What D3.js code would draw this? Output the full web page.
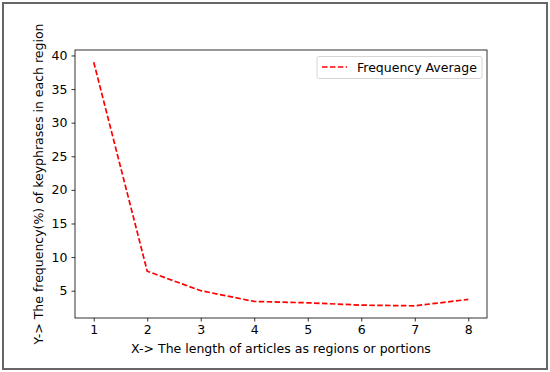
<!DOCTYPE html>
<html>
<head>
<meta charset="utf-8">
<script src="https://cdn.jsdelivr.net/npm/d3@7"></script>
<style>
  body { margin: 0; background: #fff; }
  text { font-family: "DejaVu Sans", sans-serif; fill: #000; }
</style>
</head>
<body>
<script>
// values
var regions = [1, 2, 3, 4, 5, 6, 7, 8];
var freqAvg = [39.0, 7.9, 5.0, 3.4, 3.2, 2.85, 2.75, 3.7];
var yTicks = [5, 10, 15, 20, 25, 30, 35, 40];
var seriesName = "Frequency Average";

var W = 550, H = 372;
var margin = {top: 50, right: 63, bottom: 54, left: 75},
    width = W - margin.left - margin.right,
    height = H - margin.top - margin.bottom;
var fs = "12.5px";

var svg = d3.select("body").append("svg")
    .attr("width", W)
    .attr("height", H);

// outer frame
svg.append("rect")
    .attr("x", 3).attr("y", 3)
    .attr("width", W - 6).attr("height", H - 6)
    .attr("fill", "none")
    .attr("stroke", "#666")
    .attr("stroke-width", 2);

var g = svg.append("g")
    .attr("transform", "translate(" + margin.left + "," + margin.top + ")");

// matplotlib-like 5% margins
var x = d3.scaleLinear().domain([0.65, 8.35]).range([0, width]);
var yMin = d3.min(freqAvg), yMax = d3.max(freqAvg), pad = (yMax - yMin) * 0.05;
var y = d3.scaleLinear().domain([yMin - pad, yMax + pad]).range([height, 0]);

var xAxis = g.append("g")
    .attr("transform", "translate(0," + height + ")")
    .call(d3.axisBottom(x).tickValues(regions).tickSize(3.5).tickPadding(4).tickFormat(d3.format("d")));

var yAxis = g.append("g")
    .call(d3.axisLeft(y).tickValues(yTicks).tickSize(3.5).tickPadding(4).tickFormat(d3.format("d")));

[xAxis, yAxis].forEach(function(a) {
  a.select(".domain").remove();
  a.selectAll("text").style("font-size", fs).style("font-family", "DejaVu Sans");
  a.selectAll("line").attr("stroke", "#000").attr("stroke-width", 0.8);
});

// plot frame
g.append("rect")
    .attr("width", width).attr("height", height)
    .attr("fill", "none")
    .attr("stroke", "#000")
    .attr("stroke-width", 0.8);

var line = d3.line()
    .x(function(d, i) { return x(regions[i]); })
    .y(function(d) { return y(d); });

g.append("path")
    .datum(freqAvg)
    .attr("fill", "none")
    .attr("stroke", "#ff0000")
    .attr("stroke-width", 1.7)
    .attr("stroke-dasharray", "5.5,2.4")
    .attr("d", line);

// axis labels
svg.append("text")
    .attr("x", margin.left + width / 2)
    .attr("y", 353)
    .attr("text-anchor", "middle")
    .style("font-size", fs)
    .text("X-> The length of articles as regions or portions");

svg.append("text")
    .attr("transform", "translate(43," + (margin.top + height / 2) + ") rotate(-90)")
    .attr("text-anchor", "middle")
    .style("font-size", fs)
    .text("Y-> The frequency(%) of keyphrases in each region");

// legend
var lg = g.append("g").attr("transform", "translate(" + (width - 170) + ",6.5)");
lg.append("rect")
    .attr("width", 165).attr("height", 22)
    .attr("rx", 2)
    .attr("fill", "#fff")
    .attr("stroke", "#ccc")
    .attr("stroke-width", 0.8);
lg.append("line")
    .attr("x1", 5).attr("x2", 30)
    .attr("y1", 10.5).attr("y2", 10.5)
    .attr("stroke", "#ff0000")
    .attr("stroke-width", 1.7)
    .attr("stroke-dasharray", "5.5,2.4");
lg.append("text")
    .attr("x", 40).attr("y", 15)
    .style("font-size", fs)
    .text(seriesName);
</script>
</body>
</html>
